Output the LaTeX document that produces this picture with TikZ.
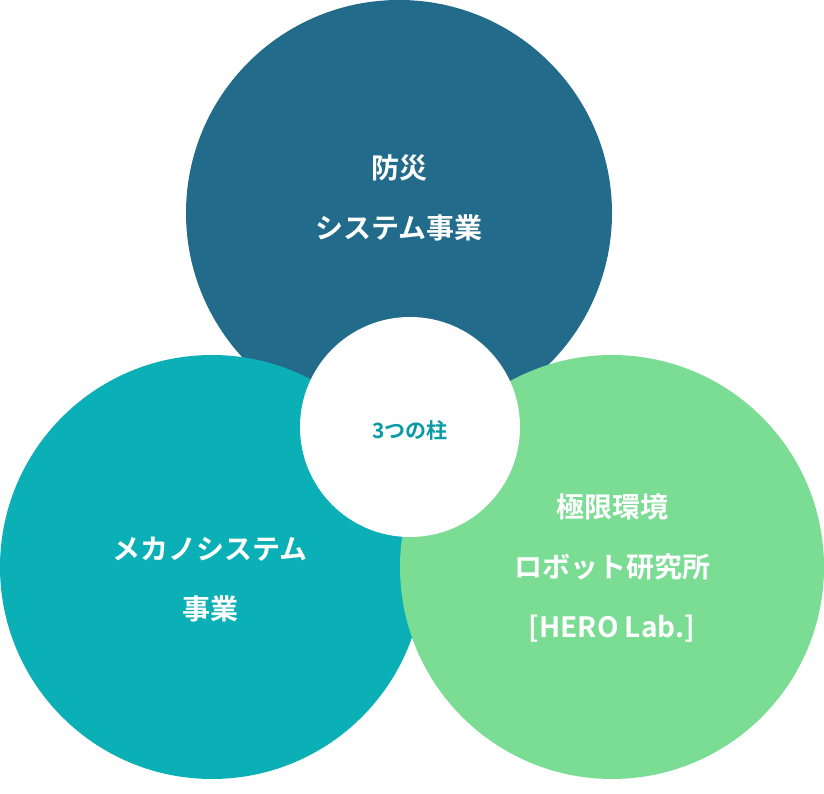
\documentclass[tikz,border=0pt]{standalone}
\usepackage{fontspec}
\setmainfont{Noto Sans CJK JP}[BoldFont={* Bold}]
\definecolor{ctop}{HTML}{226B8A}
\definecolor{cleft}{HTML}{0AB0B5}
\definecolor{cright}{HTML}{7BDC94}
\definecolor{ctext}{HTML}{0A9AA6}
\begin{document}
\begin{tikzpicture}[x=1pt,y=1pt,
  lbl/.style={text=white,font=\bfseries\fontsize{28}{60}\selectfont,align=center,inner sep=0pt}]
\useasboundingbox (0,0) rectangle (824,794);
\fill[ctop] (399,581) circle (213);
\fill[cleft] (212,227) circle (212);
\fill[cright] (612,227) circle (212);
\fill[white] (410,367) circle (110);
\node[lbl] (t) at (399,596) {防災\\システム事業};
\node[lbl] (l) at (210,214) {メカノシステム\\事業};
\node[lbl] (r) at (612,226) {極限環境\\ロボット研究所\\{}{[HERO Lab.]}};
\node[text=ctext,font=\bfseries\fontsize{21}{24}\selectfont] (c) at (410,364) {3つの柱};
\end{tikzpicture}
\end{document}
